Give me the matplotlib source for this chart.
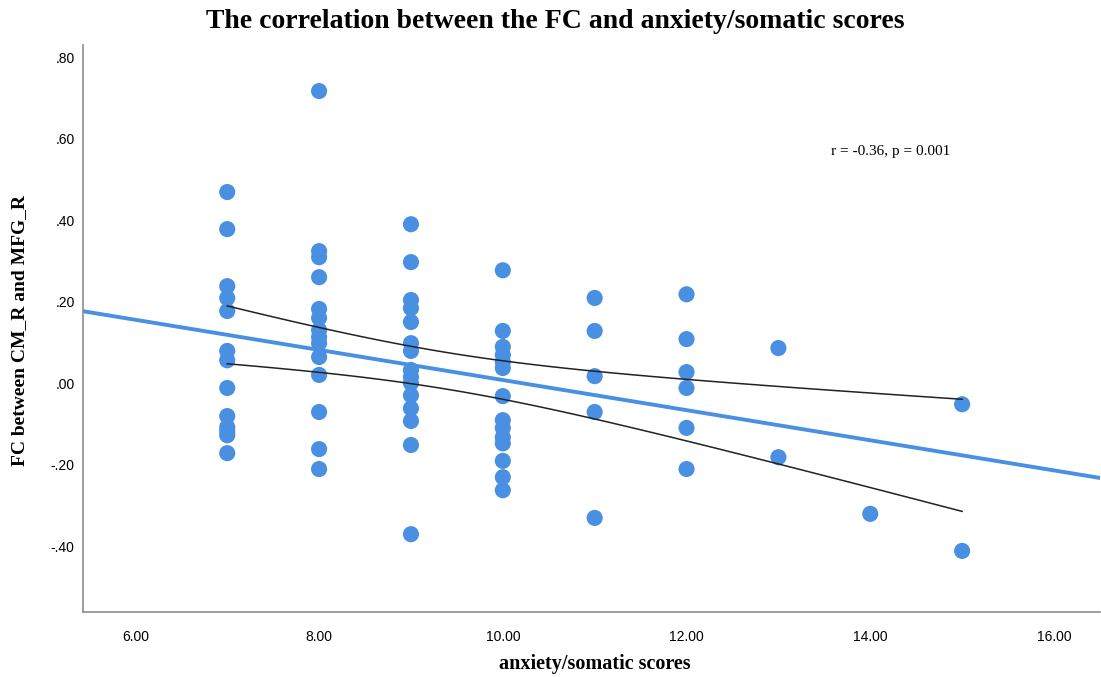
import numpy as np
import matplotlib
matplotlib.use("Agg")
from matplotlib import pyplot as plt

# anxiety/somatic score and FC values
x7 = [0.469, 0.378, 0.238, 0.209, 0.177, 0.079, 0.056, -0.012, -0.081, -0.108, -0.118, -0.128, -0.172]
x8 = [0.717, 0.324, 0.309, 0.26, 0.182, 0.16, 0.13, 0.113, 0.098, 0.064, 0.02, -0.071, -0.162, -0.211]
x9 = [0.39, 0.297, 0.204, 0.184, 0.15, 0.098, 0.079, 0.032, 0.015, 0.0, -0.03, -0.062, -0.093, -0.152, -0.371]
x10 = [0.277, 0.128, 0.089, 0.069, 0.052, 0.037, -0.032, -0.091, -0.11, -0.133, -0.148, -0.191, -0.231, -0.263]
x11 = [0.209, 0.128, 0.017, -0.071, -0.331]
x12 = [0.218, 0.108, 0.027, -0.012, -0.11, -0.211]
x13 = [0.086, -0.182]
x14 = [-0.321]
x15 = [-0.052, -0.412]

groups = {7: x7, 8: x8, 9: x9, 10: x10, 11: x11, 12: x12, 13: x13, 14: x14, 15: x15}
xs = np.array([k for k, v in groups.items() for _ in v], dtype=float)
ys = np.array([y for v in groups.values() for y in v])

xticks = [6, 8, 10, 12, 14, 16]
yticks = [-0.4, -0.2, 0.0, 0.2, 0.4, 0.6, 0.8]
ytick_labels = ['-.40', '-.20', '.00', '.20', '.40', '.60', '.80']

blue = '#4a90e2'
serif = ['Liberation Serif', 'DejaVu Serif']

fig = plt.figure(figsize=(11.01, 6.77), dpi=100)
ax = fig.add_axes([0.0754, 0.096, 0.9236, 0.8375])

ax.scatter(xs, ys, s=135, color=blue, edgecolors='none', zorder=3)

# linear fit
slope, icpt = np.polyfit(xs, ys, 1)
xl = np.array([5.43, 16.5])
ax.plot(xl, icpt + slope * xl, color=blue, lw=2.8, zorder=2)

# 95% confidence band for the mean
n = len(xs)
resid = ys - (icpt + slope * xs)
s_err = np.sqrt(np.sum(resid ** 2) / (n - 2))
xc = np.linspace(xs.min(), xs.max(), 100)
se = s_err * np.sqrt(1 / n + (xc - xs.mean()) ** 2 / np.sum((xs - xs.mean()) ** 2))
yc = icpt + slope * xc
ax.plot(xc, yc + 1.994 * se, color='#222222', lw=1.1, zorder=4)
ax.plot(xc, yc - 1.994 * se, color='#222222', lw=1.1, zorder=4)

ax.text(13.57, 0.569, 'r = -0.36, p = 0.001', family=serif, fontsize=11, va='center')

ax.set_xlim(5.43, 16.5)
ax.set_ylim(-0.562, 0.83)
ax.set_xticks(xticks)
ax.set_xticklabels(['%.2f' % t for t in xticks])
ax.set_yticks(yticks)
ax.set_yticklabels(ytick_labels)
ax.tick_params(length=0, labelsize=10)
ax.tick_params(axis='x', pad=13)
ax.tick_params(axis='y', pad=6)
for lab in ax.get_xticklabels() + ax.get_yticklabels():
    lab.set_family(['Liberation Sans Narrow', 'Liberation Sans', 'DejaVu Sans'])

for side in ['top', 'right']:
    ax.spines[side].set_visible(False)
for side in ['left', 'bottom']:
    ax.spines[side].set_color('#8c8c8c')
    ax.spines[side].set_linewidth(1.2)

fig.text(595 / 1101, 1 - 664 / 677, 'anxiety/somatic scores', family=serif, fontsize=14.5,
         fontweight='bold', ha='center', va='center')
fig.text(20 / 1101, 1 - 330 / 677, 'FC between CM_R and MFG_R', family=serif, fontsize=14,
         fontweight='bold', ha='center', va='center', rotation=90)
fig.text(555 / 1101, 1 - 22 / 677, 'The correlation between the FC and anxiety/somatic scores',
         family=serif, fontsize=20, fontweight='bold', ha='center', va='center')

fig.savefig('out.png', dpi=100)
